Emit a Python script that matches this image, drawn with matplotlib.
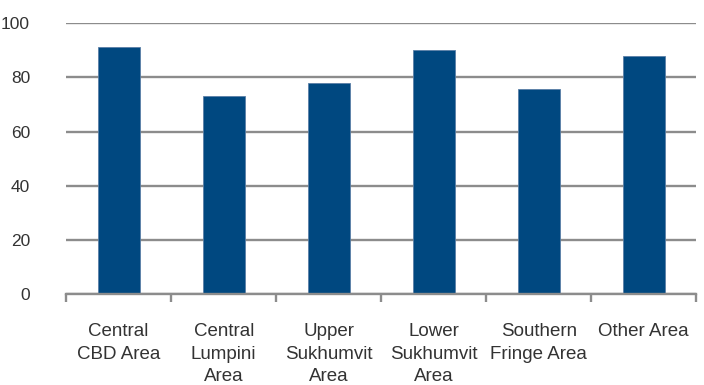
import numpy as np
import matplotlib.pyplot as plt
from matplotlib.ticker import FixedLocator

# Occupancy by area (%)
areas = ["Central\nCBD Area", "Central\nLumpini\nArea", "Upper\nSukhumvit\nArea",
         "Lower\nSukhumvit\nArea", "Southern\nFringe Area", "Other Area"]
values = [91, 73, 78, 90, 75.6, 88]
y_ticks = [0, 20, 40, 60, 80, 100]

bar_color = "#004880"
grid_color = "#8c8c8c"
text_color = "#333333"

plt.rcParams['font.family'] = ['Liberation Sans', 'DejaVu Sans']

fig = plt.figure(figsize=(7.04, 3.85), dpi=100)
ax = fig.add_axes([0.094, 0.236, 0.895, 0.704])

x = np.arange(len(areas))
ax.bar(x, values, width=0.4, color=bar_color, edgecolor="#5a7fa6", linewidth=0.6, zorder=3)

ax.set_xlim(-0.5, len(areas) - 0.5)
ax.set_ylim(0, 100)
ax.set_yticks(y_ticks)
ax.yaxis.grid(True, color=grid_color, linewidth=1.7, zorder=0)
ax.set_axisbelow(True)

for side in ["left", "right", "top"]:
    ax.spines[side].set_visible(False)
ax.spines["bottom"].set_color(grid_color)
ax.spines["bottom"].set_linewidth(1.7)
ax.spines["bottom"].set_zorder(4)

ax.tick_params(axis="y", length=0, pad=26, labelsize=12.5, labelcolor=text_color)

# category labels at bar centres, tick marks at category boundaries
ax.set_xticks(x)
ax.set_xticklabels(areas, linespacing=1.4)
ax.tick_params(axis="x", which="major", length=0, pad=21, labelsize=13.5, labelcolor=text_color)
ax.xaxis.set_minor_locator(FixedLocator(np.arange(-0.5, len(areas), 1.0)))
ax.tick_params(axis="x", which="minor", length=6, width=1.7, color=grid_color, direction="out")

fig.savefig("out.png", dpi=100)
